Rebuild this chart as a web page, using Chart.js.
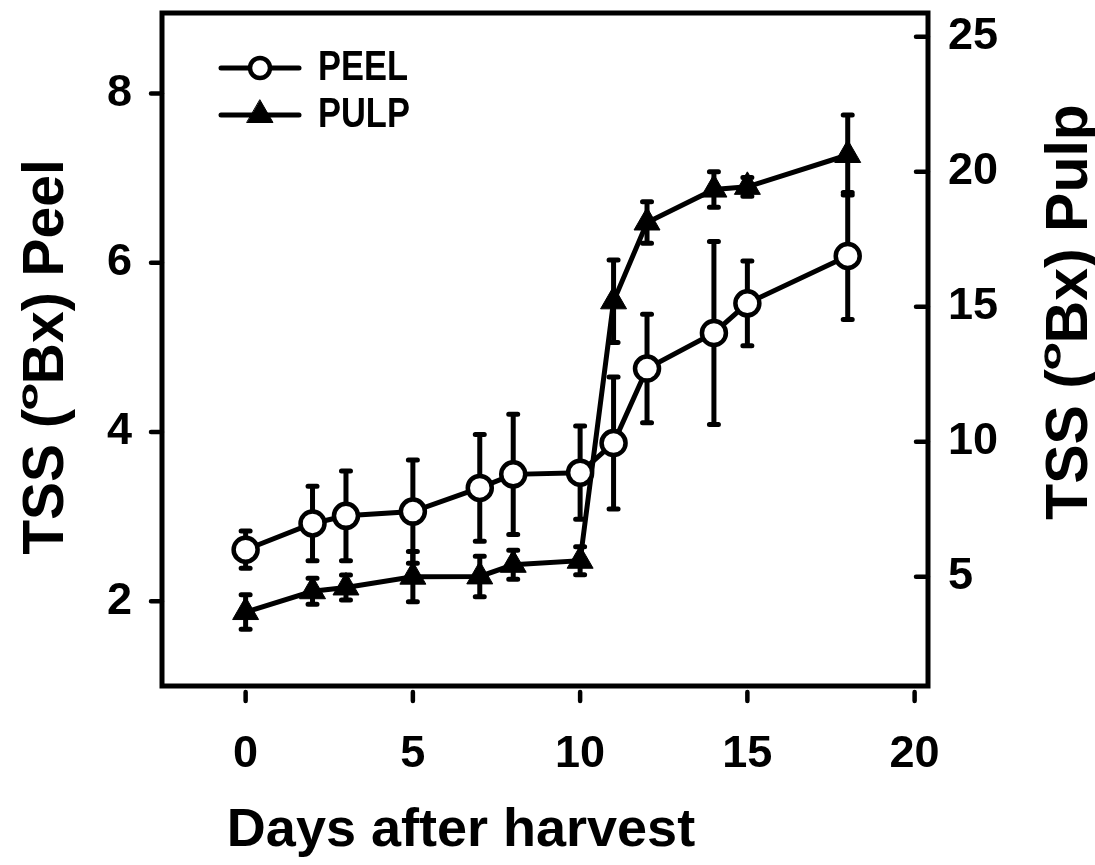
<!DOCTYPE html>
<html>
<head>
<meta charset="utf-8">
<title>TSS of peel and pulp after harvest</title>
<script src="https://cdn.jsdelivr.net/npm/chart.js@4/dist/chart.umd.min.js"></script>
<style>
  html, body { margin: 0; padding: 0; background: #fff; }
  canvas { display: block; }
</style>
</head>
<body>
<canvas id="tssChart" width="1095" height="865"></canvas>
<script>
"use strict";

// Total soluble solids (means and SE) during storage
const days = [0, 2, 3, 5, 7, 8, 10, 11, 12, 14, 15, 18];
const peelTSS = [2.61, 2.92, 3.01, 3.06, 3.34, 3.50, 3.52, 3.87, 4.75, 5.17, 5.52, 6.08];
const peelSE = [0.22, 0.44, 0.53, 0.61, 0.63, 0.71, 0.55, 0.78, 0.64, 1.08, 0.50, 0.75];
const pulpTSS = [3.69, 4.46, 4.60, 5.00, 5.01, 5.44, 5.59, 15.20, 18.12, 19.34, 19.44, 20.62];
const pulpSE = [0.64, 0.48, 0.46, 0.93, 0.75, 0.54, 0.52, 1.53, 0.77, 0.66, 0.35, 1.48];

const dayTicks = [0, 5, 10, 15, 20];
const peelTicks = [2, 4, 6, 8];
const pulpTicks = [5, 10, 15, 20, 25];

const FONT = "'Liberation Sans', Arial, sans-serif";
const INK = "#000";

const ctx = document.getElementById("tssChart").getContext("2d");

// fixes the axis box so the plot frame lands where we want it
function fixBox(dim, size) {
  return (scale) => {
    scale[dim] = size;
    scale.paddingTop = 0;
    scale.paddingBottom = 0;
    scale.paddingLeft = 0;
    scale.paddingRight = 0;
  };
}

function useTicks(values) {
  return (scale) => {
    scale.ticks = values.map((value) => ({ value }));
  };
}

// vertical error bars with small caps, drawn under the markers
const errorBars = {
  id: "errorBars",
  beforeDatasetsDraw(chart) {
    const c = chart.ctx;
    const x = chart.scales.x;
    c.save();
    c.strokeStyle = INK;
    c.lineWidth = 5;
    c.lineCap = "round";
    chart.data.datasets.forEach((ds) => {
      const ys = chart.scales[ds.yAxisID];
      ds.data.forEach((pt, i) => {
        const px = x.getPixelForValue(pt.x);
        const top = ys.getPixelForValue(pt.y + ds.se[i]);
        const bot = ys.getPixelForValue(pt.y - ds.se[i]);
        c.beginPath();
        c.moveTo(px, top);
        c.lineTo(px, bot);
        c.moveTo(px - 4.5, top);
        c.lineTo(px + 4.5, top);
        c.moveTo(px - 4.5, bot);
        c.lineTo(px + 4.5, bot);
        c.stroke();
      });
    });
    c.restore();
  },
};

// axis title with a raised, flattened "O" (degrees Brix)
function drawBrixTitle(c, before, after, size, cx, baseline) {
  const supSize = size * 0.56;
  const supFlat = 0.66;
  c.save();
  c.translate(cx, baseline);
  c.rotate(-Math.PI / 2);
  c.fillStyle = INK;
  c.strokeStyle = INK;
  c.textBaseline = "alphabetic";
  c.textAlign = "left";
  c.font = `bold ${size}px ${FONT}`;
  const w1 = c.measureText(before).width;
  const w3 = c.measureText(after).width;
  c.font = `bold ${supSize}px ${FONT}`;
  const w2 = c.measureText("O").width;
  const x0 = -(w1 + w2 + w3) / 2;
  c.font = `bold ${size}px ${FONT}`;
  c.fillText(before, x0, 0);
  c.fillText(after, x0 + w1 + w2, 0);
  c.save();
  c.translate(x0 + w1, -0.716 * size + 0.72 * supSize * supFlat);
  c.scale(1, supFlat);
  c.font = `bold ${supSize}px ${FONT}`;
  c.lineWidth = 2;
  c.fillText("O", 0, 0);
  c.strokeText("O", 0, 0);
  c.restore();
  c.restore();
}

const frameAndText = {
  id: "frameAndText",
  afterDraw(chart) {
    const c = chart.ctx;
    const a = chart.chartArea;
    const { x, y, y1 } = chart.scales;
    c.save();
    c.strokeStyle = INK;
    c.lineWidth = 5;
    c.strokeRect(a.left, a.top, a.right - a.left, a.bottom - a.top);

    c.lineWidth = 4.5;
    c.lineCap = "round";
    c.beginPath();
    peelTicks.forEach((v) => {
      const py = y.getPixelForValue(v);
      c.moveTo(a.left - 11, py);
      c.lineTo(a.left, py);
    });
    pulpTicks.forEach((v) => {
      const py = y1.getPixelForValue(v);
      c.moveTo(a.right - 12, py);
      c.lineTo(a.right, py);
    });
    dayTicks.forEach((v) => {
      const px = x.getPixelForValue(v);
      c.moveTo(px, a.bottom + 6);
      c.lineTo(px, a.bottom + 15);
    });
    c.stroke();

    // axis titles
    drawBrixTitle(c, "TSS (", "Bx) Peel", 57, 63, 357);
    drawBrixTitle(c, "TSS (", "Bx) Pulp", 59, 1087, 312);
    c.font = `bold 54px ${FONT}`;
    c.fillStyle = INK;
    c.textAlign = "center";
    c.textBaseline = "alphabetic";
    c.fillText("Days after harvest", 461, 846);

    // legend: line with marker, then label
    const rows = [
      { label: chart.data.datasets[0].label, style: "circle", r: 10, fill: "#fff", bw: 4.5, dy: 55 },
      { label: chart.data.datasets[1].label, style: "triangle", r: 15, fill: INK, bw: 1, dy: 102 },
    ];
    rows.forEach((row) => {
      const ly = a.top + row.dy;
      c.lineWidth = 5;
      c.lineCap = "round";
      c.strokeStyle = INK;
      c.beginPath();
      c.moveTo(a.left + 59, ly);
      c.lineTo(a.left + 137, ly);
      c.stroke();
      c.fillStyle = row.fill;
      c.lineWidth = row.bw;
      Chart.helpers.drawPoint(c, { pointStyle: row.style, radius: row.r, rotation: 0, borderWidth: row.bw }, a.left + 98, ly);
      c.save();
      c.translate(a.left + 156, ly + 12);
      c.scale(0.82, 1);
      c.fillStyle = INK;
      c.font = `bold 42px ${FONT}`;
      c.textAlign = "left";
      c.textBaseline = "alphabetic";
      c.fillText(row.label, 0, 0);
      c.restore();
    });
    c.restore();
  },
};

const tickFont = { family: FONT, size: 45, weight: "bold" };

new Chart(ctx, {
  type: "line",
  data: {
    datasets: [
      {
        label: "PEEL",
        yAxisID: "y",
        data: days.map((d, i) => ({ x: d, y: peelTSS[i] })),
        se: peelSE,
        borderColor: INK,
        borderWidth: 5,
        pointStyle: "circle",
        pointRadius: 12,
        pointBackgroundColor: "#fff",
        pointBorderColor: INK,
        pointBorderWidth: 4.5,
        tension: 0,
      },
      {
        label: "PULP",
        yAxisID: "y1",
        data: days.map((d, i) => ({ x: d, y: pulpTSS[i] })),
        se: pulpSE,
        borderColor: INK,
        borderWidth: 5,
        pointStyle: "triangle",
        pointRadius: 15,
        pointBackgroundColor: INK,
        pointBorderColor: INK,
        pointBorderWidth: 1,
        tension: 0,
      },
    ],
  },
  options: {
    responsive: false,
    animation: false,
    devicePixelRatio: 1,
    layout: { autoPadding: false, padding: { top: 13, left: 0, right: 0, bottom: 0 } },
    plugins: {
      legend: { display: false },
      tooltip: { enabled: false },
    },
    scales: {
      x: {
        type: "linear",
        position: "bottom",
        min: -2.5,
        max: 20.4,
        grid: { display: false, drawTicks: false },
        border: { display: false },
        ticks: { font: tickFont, color: INK, padding: 42, maxRotation: 0 },
        afterBuildTicks: useTicks(dayTicks),
        afterFit: fixBox("height", 179),
      },
      y: {
        type: "linear",
        position: "left",
        min: 1,
        max: 8.95,
        grid: { display: false, drawTicks: false },
        border: { display: false },
        ticks: { font: tickFont, color: INK, padding: 30 },
        afterBuildTicks: useTicks(peelTicks),
        afterFit: fixBox("width", 162),
      },
      y1: {
        type: "linear",
        position: "right",
        min: 0.95,
        max: 25.88,
        grid: { display: false, drawTicks: false },
        border: { display: false },
        ticks: { font: tickFont, color: INK, padding: 20 },
        afterBuildTicks: useTicks(pulpTicks),
        afterFit: fixBox("width", 167),
      },
    },
  },
  plugins: [errorBars, frameAndText],
});
</script>
</body>
</html>
